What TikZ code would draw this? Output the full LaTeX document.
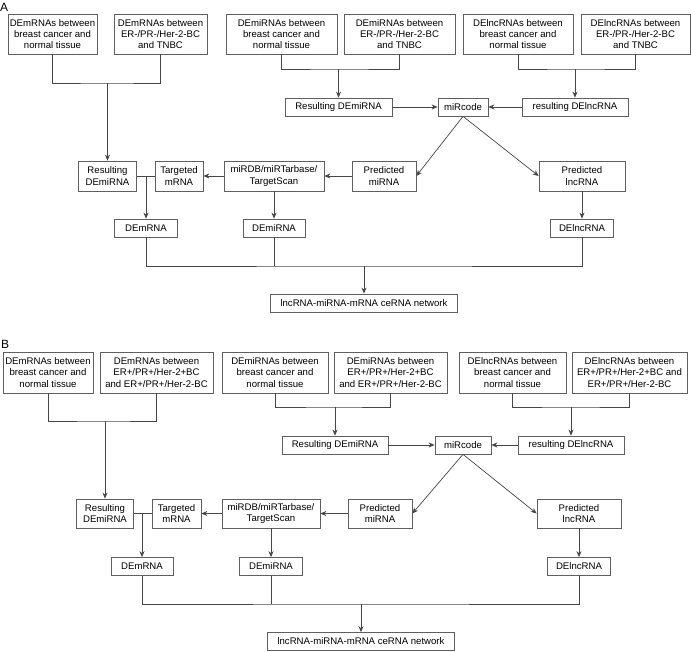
\documentclass[tikz,border=0pt]{standalone}
\usepackage{fontspec}
\setmainfont{Liberation Sans}
\usepackage{tikz}
\usetikzlibrary{arrows.meta,positioning,calc}
\definecolor{boxgray}{RGB}{95,95,95}
\definecolor{linegray}{RGB}{70,70,70}
\newcommand{\boxfont}{\fontsize{9.6}{11.4}\selectfont}

\begin{document}
\begin{tikzpicture}[x=1pt, y=-1pt,
    box/.style={rectangle, draw=boxgray, line width=0.7pt, align=center, inner sep=1pt, font=\boxfont},
    topbox/.style={box, minimum height=40},
    midbox/.style={box, minimum height=30},
    lowbox/.style={box, minimum height=18},
    panel/.style={anchor=west, inner sep=0pt, font=\fontsize{12}{12}\selectfont},
    link/.style={draw=linegray, line width=0.7pt},
    arrow/.style={link, -{Stealth[length=6pt, width=5pt]}}]
  \useasboundingbox (0,0) rectangle (691,651);

  % panel A
  \node[panel] (labA) at (0,7) {A};
  \node[topbox, minimum width=89] (a1) at (52.5,34) {DEmRNAs between\\breast cancer and\\normal tissue};
  \node[topbox, minimum width=93] (a2) at (160.5,34) {DEmRNAs between\\ER-/PR-/Her-2-BC\\and TNBC};
  \node[topbox, minimum width=111] (a3) at (281.5,34) {DEmiRNAs between\\breast cancer and\\normal tissue};
  \node[topbox, minimum width=111] (a4) at (399.5,34) {DEmiRNAs between\\ER-/PR-/Her-2-BC\\and TNBC};
  \node[topbox, minimum width=110] (a5) at (518,34) {DElncRNAs between\\breast cancer and\\normal tissue};
  \node[topbox, minimum width=109] (a6) at (635.5,34) {DElncRNAs between\\ER-/PR-/Her-2-BC\\and TNBC};
  \coordinate (aJ1) at (107.5,83);
  \coordinate (aJ2) at (338.5,69);
  \coordinate (aJ3) at (575,69);
  \node[lowbox, minimum width=107] (aResMi) at (338.5,107) {Resulting DEmiRNA};
  \node[lowbox, minimum width=50] (aCode) at (463,107) {miRcode};
  \node[lowbox, minimum width=106] (aResL) at (575,107) {resulting DElncRNA};
  \node[midbox, minimum width=58] (aRes) at (107.5,176) {Resulting\\DEmiRNA};
  \node[midbox, minimum width=48] (aTarg) at (179,176) {Targeted\\mRNA};
  \node[midbox, minimum width=100] (aDB) at (274,176) {miRDB/miRTarbase/\\TargetScan};
  \node[midbox, minimum width=64] (aPredMi) at (384,176) {Predicted\\miRNA};
  \node[midbox, minimum width=86] (aPredL) at (582,176) {Predicted\\lncRNA};
  \coordinate (aJ4) at (146,176);
  \node[lowbox, minimum width=63] (aDEm) at (146,228) {DEmRNA};
  \node[lowbox, minimum width=62] (aDEmi) at (274,228) {DEmiRNA};
  \node[lowbox, minimum width=63] (aDEl) at (582,228) {DElncRNA};
  \coordinate (aJ5) at (364,266);
  \node[lowbox, minimum width=187] (aNet) at (364,303) {lncRNA-miRNA-mRNA ceRNA network};
  \draw[link] (a1.south) |- (aJ1) -| (a2.south);
  \draw[arrow] (aJ1) -- (aRes.north);
  \draw[link] (a3.south) |- (aJ2) -| (a4.south);
  \draw[arrow] (aJ2) -- (aResMi.north);
  \draw[link] (a5.south) |- (aJ3) -| (a6.south);
  \draw[arrow] (aJ3) -- (aResL.north);
  \draw[arrow] (aResMi) -- (aCode);
  \draw[arrow] (aResL) -- (aCode);
  \draw[arrow] (aCode.south) -- (aPredMi.east);
  \draw[arrow] (aCode.south) -- (aPredL.west);
  \draw[arrow] (aPredMi) -- (aDB);
  \draw[arrow] (aDB) -- (aTarg);
  \draw[link] (aRes) -- (aTarg);
  \draw[arrow] (aJ4) -- (aDEm.north);
  \draw[arrow] (aDB) -- (aDEmi);
  \draw[arrow] (aPredL) -- (aDEl);
  \draw[link] (aDEm.south) |- (aJ5) -| (aDEl.south);
  \draw[link] (aDEmi.south) -- (aDEmi.south |- aJ5);
  \draw[arrow] (aJ5) -- (aNet.north);

  % panel B
  \node[panel] (labB) at (1,344) {B};
  \node[topbox, minimum width=90, minimum height=41] (b1) at (48,372.5) {DEmRNAs between\\breast cancer and\\normal tissue};
  \node[topbox, minimum width=113, minimum height=41] (b2) at (156.5,372.5) {DEmRNAs between\\ER+/PR+/Her-2+BC\\and ER+/PR+/Her-2-BC};
  \node[topbox, minimum width=106, minimum height=41] (b3) at (275,372.5) {DEmiRNAs between\\breast cancer and\\normal tissue};
  \node[topbox, minimum width=113, minimum height=41] (b4) at (390.5,372.5) {DEmiRNAs between\\ER+/PR+/Her-2+BC\\and ER+/PR+/Her-2-BC};
  \node[topbox, minimum width=107, minimum height=41] (b5) at (512.5,372.5) {DElncRNAs between\\breast cancer and\\normal tissue};
  \node[topbox, minimum width=115, minimum height=41] (b6) at (629.5,372.5) {DElncRNAs between\\ER+/PR+/Her-2+BC and\\ER+/PR+/Her-2-BC};
  \coordinate (bJ1) at (105,421);
  \coordinate (bJ2) at (335,407);
  \coordinate (bJ3) at (571,407);
  \node[lowbox, minimum width=106] (bResMi) at (335,445) {Resulting DEmiRNA};
  \node[lowbox, minimum width=56] (bCode) at (463,445) {miRcode};
  \node[lowbox, minimum width=106] (bResL) at (571,445) {resulting DElncRNA};
  \node[midbox, minimum width=57, minimum height=29] (bRes) at (105,513.5) {Resulting\\DEmiRNA};
  \node[midbox, minimum width=49, minimum height=29] (bTarg) at (176.5,513.5) {Targeted\\mRNA};
  \node[midbox, minimum width=98, minimum height=29] (bDB) at (271,513.5) {miRDB/miRTarbase/\\TargetScan};
  \node[midbox, minimum width=64, minimum height=29] (bPredMi) at (380,513.5) {Predicted\\miRNA};
  \node[midbox, minimum width=84, minimum height=29] (bPredL) at (579,513.5) {Predicted\\lncRNA};
  \coordinate (bJ4) at (142,513.5);
  \node[lowbox, minimum width=62] (bDEm) at (142,566.5) {DEmRNA};
  \node[lowbox, minimum width=63] (bDEmi) at (271,566.5) {DEmiRNA};
  \node[lowbox, minimum width=63] (bDEl) at (579,566.5) {DElncRNA};
  \coordinate (bJ5) at (361,604);
  \node[lowbox, minimum width=187] (bNet) at (361,641.5) {lncRNA-miRNA-mRNA ceRNA network};
  \draw[link] (b1.south) |- (bJ1) -| (b2.south);
  \draw[arrow] (bJ1) -- (bRes.north);
  \draw[link] (b3.south) |- (bJ2) -| (b4.south);
  \draw[arrow] (bJ2) -- (bResMi.north);
  \draw[link] (b5.south) |- (bJ3) -| (b6.south);
  \draw[arrow] (bJ3) -- (bResL.north);
  \draw[arrow] (bResMi) -- (bCode);
  \draw[arrow] (bResL) -- (bCode);
  \draw[arrow] (bCode.south) -- (bPredMi.east);
  \draw[arrow] (bCode.south) -- (bPredL.west);
  \draw[arrow] (bPredMi) -- (bDB);
  \draw[arrow] (bDB) -- (bTarg);
  \draw[link] (bRes) -- (bTarg);
  \draw[arrow] (bJ4) -- (bDEm.north);
  \draw[arrow] (bDB) -- (bDEmi);
  \draw[arrow] (bPredL) -- (bDEl);
  \draw[link] (bDEm.south) |- (bJ5) -| (bDEl.south);
  \draw[link] (bDEmi.south) -- (bDEmi.south |- bJ5);
  \draw[arrow] (bJ5) -- (bNet.north);
\end{tikzpicture}
\end{document}
